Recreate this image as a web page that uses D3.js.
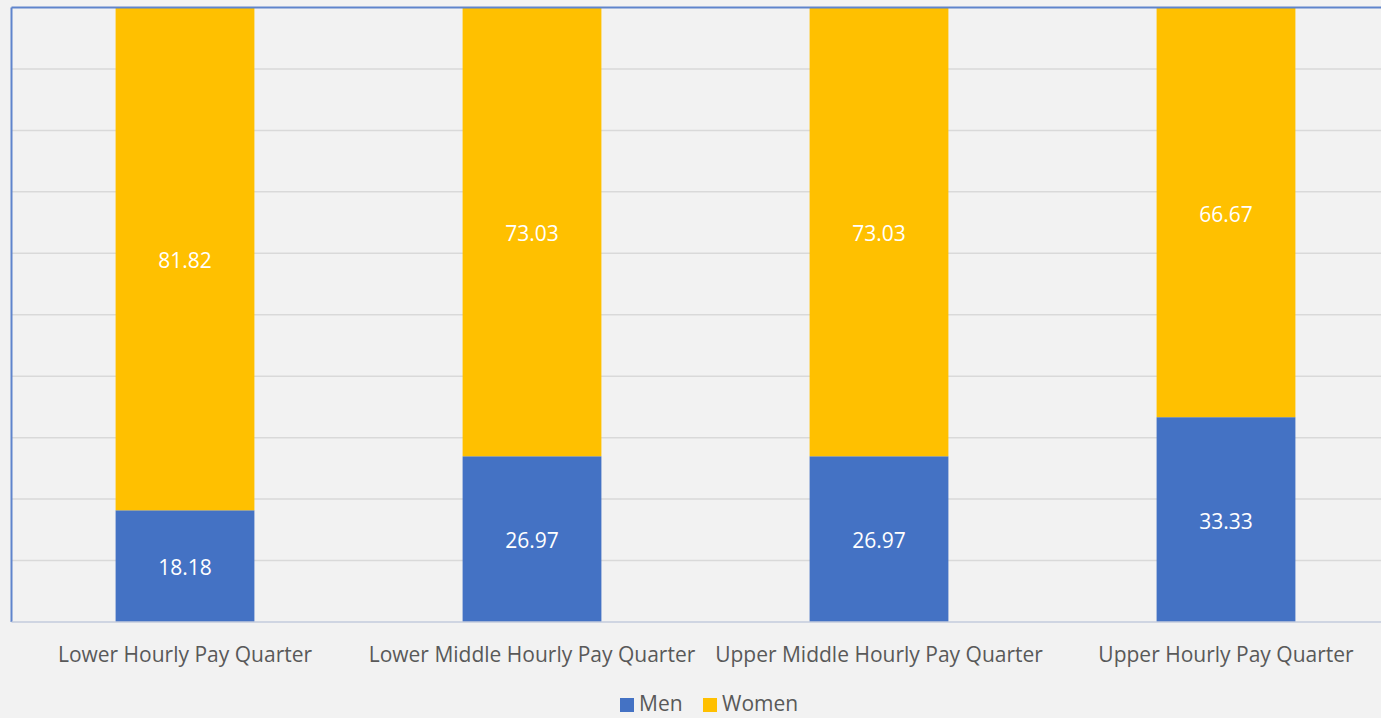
<!DOCTYPE html>
<html><head><meta charset="utf-8">
<script src="https://cdn.jsdelivr.net/npm/d3@7"></script>
<style>html,body{margin:0;padding:0;background:#f2f2f2;overflow:hidden}</style>
</head><body>
<svg id="chart" width="1381" height="718"></svg>
<script>
const categories = ["Lower Hourly Pay Quarter","Lower Middle Hourly Pay Quarter","Upper Middle Hourly Pay Quarter","Upper Hourly Pay Quarter"];
const men = [18.18, 26.97, 26.97, 33.33];
const women = [81.82, 73.03, 73.03, 66.67];
const seriesNames = ["Men","Women"];
const colors = ["#4472c4","#ffc000"];
const yTicks = [0,10,20,30,40,50,60,70,80,90,100];

(function(){
const svg = d3.select("#chart");
const pLeft = 11.5, pRight = 1399.5, pTop = 7.5, pBottom = 622;
const x = d3.scaleBand().domain(categories).range([pLeft,pRight]).paddingInner(0.6).paddingOuter(0.3);
const y = d3.scaleLinear().domain([0,100]).range([pBottom,pTop]);
const font = "'Open Sans', 'Noto Sans', sans-serif";

svg.append("rect").attr("width",1381).attr("height",718).attr("fill","#f2f2f2");

svg.append("g").selectAll("line").data(yTicks.slice(1,-1)).join("line")
  .attr("x1",pLeft).attr("x2",pRight).attr("y1",d=>y(d)).attr("y2",d=>y(d))
  .attr("stroke","#d9d9d9").attr("stroke-width",1.5);

const data = categories.map((c,i)=>({cat:c, Men:men[i], Women:women[i]}));
const stack = d3.stack().keys(seriesNames)(data);

const g = svg.append("g");
stack.forEach((s,si)=>{
  g.selectAll(null).data(s).join("rect")
    .attr("x",d=>x(d.data.cat)).attr("width",x.bandwidth())
    .attr("y",d=>y(d[1])).attr("height",d=>y(d[0])-y(d[1]))
    .attr("fill",colors[si]);
  g.selectAll(null).data(s).join("text")
    .attr("x",d=>x(d.data.cat)+x.bandwidth()/2)
    .attr("y",d=>(y(d[0])+y(d[1]))/2 + 2)
    .attr("dy","0.35em").attr("text-anchor","middle")
    .attr("fill","#ffffff").attr("font-family",font).attr("font-size",21)
    .text(d=>(d[1]-d[0]).toFixed(2));
});

svg.append("line").attr("x1",pLeft).attr("x2",pRight).attr("y1",pTop).attr("y2",pTop)
  .attr("stroke","#5f84cc").attr("stroke-width",2);
svg.append("line").attr("x1",pLeft).attr("x2",pLeft).attr("y1",pTop).attr("y2",pBottom)
  .attr("stroke","#5f84cc").attr("stroke-width",2);
svg.append("line").attr("x1",pLeft).attr("x2",pRight).attr("y1",pBottom).attr("y2",pBottom)
  .attr("stroke","#c3cbdd").attr("stroke-width",1.5);

const xAxis = d3.axisBottom(x).tickSize(0).tickPadding(0);
const ax = svg.append("g").attr("transform",`translate(0,${pBottom})`).call(xAxis);
ax.select(".domain").remove();
ax.selectAll("text").attr("y",33).attr("dy","0.35em").attr("fill","#595959")
  .attr("font-family",font).attr("font-size",21);

const legend = svg.append("g");
const lx = [620, 703];
seriesNames.forEach((n,i)=>{
  legend.append("rect").attr("x",lx[i]).attr("y",698).attr("width",14).attr("height",14).attr("fill",colors[i]);
  legend.append("text").attr("x",lx[i]+19).attr("y",711)
    .attr("fill","#595959").attr("font-family",font).attr("font-size",21).text(n);
});
})();
</script>
</body></html>
